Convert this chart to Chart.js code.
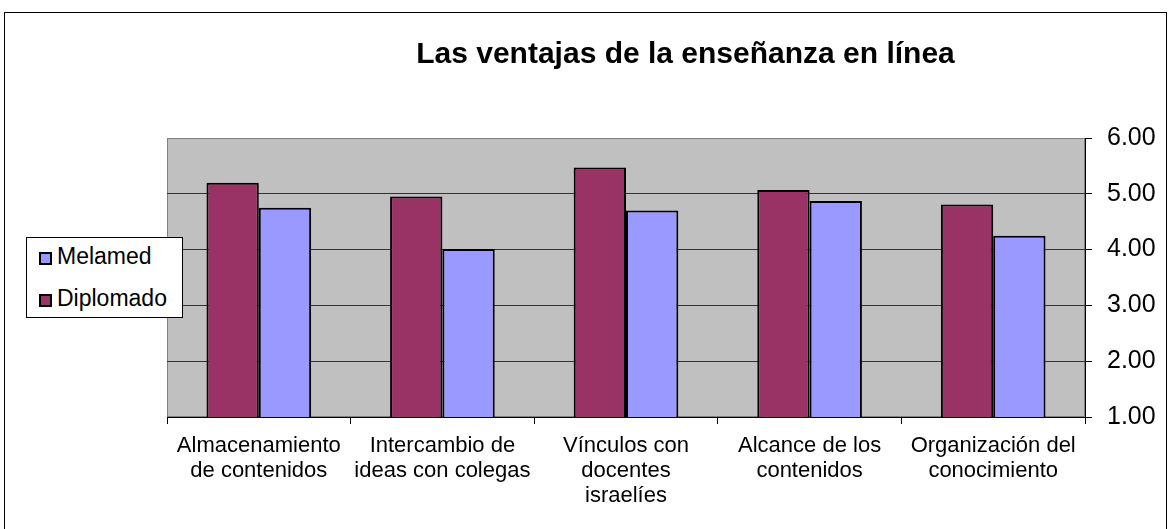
<!DOCTYPE html>
<html>
<head>
<meta charset="utf-8">
<script src="https://cdn.jsdelivr.net/npm/chart.js@4/dist/chart.umd.min.js"></script>
<style>
  html, body { margin: 0; padding: 0; background: #fff; }
  #wrap { position: relative; width: 1172px; height: 529px; overflow: hidden; }
  #frame { position: absolute; left: 4px; top: 12px; width: 1163px; height: 600px; border: 1px solid #000; box-sizing: border-box; pointer-events: none; }
  canvas { position: absolute; left: 0; top: 0; }
  #legend { position: absolute; left: 26px; top: 237px; width: 157px; height: 81px; box-sizing: border-box; border: 1px solid #000; background: #fff; font-family: 'Liberation Sans', Arial, sans-serif; font-size: 23px; color: #000; }
  .item { position: absolute; left: 12px; height: 26px; line-height: 26px; white-space: nowrap; }
  .sw { display: inline-block; width: 13px; height: 13px; box-sizing: border-box; border: 2px solid #000; margin-right: 5px; vertical-align: -1px; }
</style>
</head>
<body>
<div id="wrap">
  <canvas id="c" width="1172" height="529"></canvas>
  <div id="frame"></div>
  <div id="legend"></div>
</div>
<script>
const titleText = 'Las ventajas de la enseñanza en línea';
const categories = [
  ['Almacenamiento', 'de contenidos'],
  ['Intercambio de', 'ideas con colegas'],
  ['Vínculos con', 'docentes', 'israelíes'],
  ['Alcance de los', 'contenidos'],
  ['Organización del', 'conocimiento']
];
const seriesNames = ['Diplomado', 'Melamed'];
const seriesColors = ['#993366', '#9999FF'];
const diplomado = [5.20, 4.95, 5.47, 5.07, 4.81];
const melamed = [4.75, 4.01, 4.70, 4.87, 4.25];
const yTicks = [1, 2, 3, 4, 5, 6];

const FONT = "'Liberation Sans', Arial, sans-serif";

const plotBg = {
  id: 'plotBg',
  beforeDraw(chart) {
    const a = chart.chartArea, ctx = chart.ctx;
    ctx.save();
    ctx.fillStyle = '#C0C0C0';
    ctx.fillRect(a.left, a.top, a.right - a.left, a.bottom - a.top);
    ctx.strokeStyle = '#808080';
    ctx.lineWidth = 1;
    ctx.strokeRect(a.left + 0.5, a.top + 0.5, a.right - a.left - 1, a.bottom - a.top - 1);
    ctx.restore();
  }
};
const titleShift = {
  id: 'titleShift',
  afterLayout(chart) {
    const t = chart.titleBlock;
    if (t) { t.left += 16; t.right += 16; }
  }
};

const chart = new Chart(document.getElementById('c'), {
  type: 'bar',
  data: {
    labels: categories,
    datasets: [
      { label: seriesNames[0], data: diplomado, backgroundColor: seriesColors[0], borderColor: '#000', borderWidth: 2 },
      { label: seriesNames[1], data: melamed, backgroundColor: seriesColors[1], borderColor: '#000', borderWidth: 2 }
    ]
  },
  options: {
    responsive: false,
    animation: false,
    devicePixelRatio: 1,
    categoryPercentage: 0.57,
    barPercentage: 1.0,
    layout: { padding: { left: 167, right: 0, top: 0, bottom: 0 } },
    plugins: {
      legend: { display: false },
      tooltip: { enabled: false },
      title: {
        display: true,
        text: titleText,
        color: '#000',
        font: { family: FONT, size: 30, weight: 'bold', lineHeight: 1.2 },
        padding: { top: 37, bottom: 65 }
      }
    },
    scales: {
      x: {
        ticks: { color: '#000', font: { family: FONT, size: 22, lineHeight: 1.14 }, autoSkip: false, maxRotation: 0, minRotation: 0, padding: 9 },
        grid: { drawOnChartArea: false, drawTicks: true, tickLength: 7, color: '#000', offset: true },
        border: { display: true, color: '#000', width: 1 },
        afterFit(s) { s.height = 112; }
      },
      y: {
        position: 'right',
        min: 1, max: 6,
        afterBuildTicks(s) { s.ticks = yTicks.map(v => ({ value: v })); },
        ticks: { color: '#000', font: { family: FONT, size: 25 }, padding: 15, callback: v => Number(v).toFixed(2) },
        grid: {
          drawTicks: true, tickLength: 7, tickColor: '#000',
          color: ctx => (ctx.tick && ctx.tick.value === 6) ? '#808080' : '#333333',
          lineWidth: 1
        },
        border: { display: true, color: '#000', width: 1 },
        afterFit(s) { s.width = 87; }
      }
    }
  },
  plugins: [plotBg, titleShift]
});

// HTML legend (Excel order: reversed)
const leg = document.getElementById('legend');
const tops = [5, 47];
chart.data.datasets.slice().reverse().forEach((ds, i) => {
  const d = document.createElement('div');
  d.className = 'item';
  d.style.top = tops[i] + 'px';
  const sw = document.createElement('span');
  sw.className = 'sw';
  sw.style.background = ds.backgroundColor;
  d.appendChild(sw);
  d.appendChild(document.createTextNode(ds.label));
  leg.appendChild(d);
});
</script>
</body>
</html>
